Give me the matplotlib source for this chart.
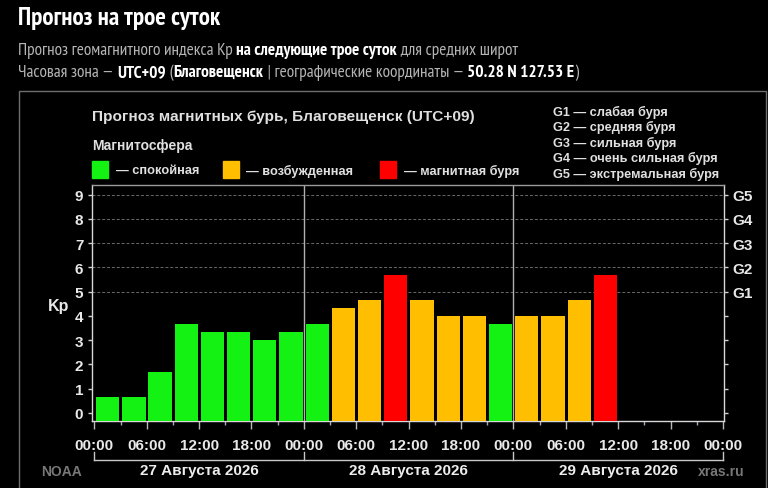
import matplotlib
matplotlib.use('Agg')
import matplotlib.pyplot as plt
import matplotlib.transforms as mtransforms
from matplotlib.patches import Rectangle

W, H = 768, 489

# значения Kp по трёхчасовым интервалам (27, 28, 29 августа)
kp = [0.67, 0.67, 1.67, 3.67, 3.33, 3.33, 3.00, 3.33,
      3.67, 4.33, 4.67, 5.67, 4.67, 4.00, 4.00, 3.67,
      4.00, 4.00, 4.67, 5.67]
days = ['27 Августа 2026', '28 Августа 2026', '29 Августа 2026']
hour_labels = ['00:00', '06:00', '12:00', '18:00'] * 3 + ['00:00']
g_labels = ['G1', 'G2', 'G3', 'G4', 'G5']
g_legend = ['G1 — слабая буря', 'G2 — средняя буря', 'G3 — сильная буря',
            'G4 — очень сильная буря', 'G5 — экстремальная буря']
states = ['— спокойная', '— возбужденная', '— магнитная буря']

GREEN, ORANGE, RED = '#13f213', '#ffbf00', '#ff0000'
narrow = ['PT Sans Narrow', 'DejaVu Sans']
arial = ['Liberation Sans', 'DejaVu Sans']


def fy(y):
    return 1 - y / H


def state_color(v):
    if v < 4:
        return GREEN
    if v < 5:
        return ORANGE
    return RED


fig = plt.figure(figsize=(W / 100, H / 100), dpi=100, facecolor='black')
renderer = fig.canvas.get_renderer()


# строка с обычными и жирными кусками
def rich(x, y, parts, size):
    for txt, bold in parts:
        t = fig.text(x / W, fy(y), txt, fontsize=size, family=narrow,
                     fontweight='bold' if bold else 'normal',
                     color='white' if bold else '#b5b5b5', va='center', ha='left')
        x = t.get_window_extent(renderer).x1


fig.text(18 / W, fy(19), 'Прогноз на трое суток', fontsize=18, family=narrow,
         fontweight='bold', color='white', va='center')
rich(18, 51, [('Прогноз геомагнитного индекса Kp ', False),
              ('на следующие трое суток', True),
              (' для средних широт', False)], 12.4)
rich(18, 73, [('Часовая зона — ', False), ('UTC+09', True), (' (', False),
              ('Благовещенск', True), (' | географические координаты — ', False),
              ('50.28 N 127.53 E', True), (')', False)], 12.4)

# рамка блока
fig.patches.append(Rectangle((18.5 / W, fy(500)), (766 - 18.5) / W, (500 - 92) / H,
                             transform=fig.transFigure, fill=False,
                             edgecolor='#6e6e6e', lw=1))

fig.text(92 / W, fy(117), 'Прогноз магнитных бурь, Благовещенск (UTC+09)',
         fontsize=11.1, family=arial, fontweight='bold', color='#e0e0e0', va='center')
fig.text(92 / W, fy(146), 'Магнитосфера', fontsize=10, family=arial,
         fontweight='bold', color='#e0e0e0', va='center')

for sx, tx, col, lab in zip([92, 223, 380], [116, 246, 404],
                            [GREEN, ORANGE, RED], states):
    fig.patches.append(Rectangle((sx / W, fy(179)), 16 / W, 17 / H,
                                 transform=fig.transFigure, color=col))
    fig.text(tx / W, fy(171), lab, fontsize=9.2, family=arial,
             fontweight='bold', color='#e0e0e0', va='center')

for i, lab in enumerate(g_legend):
    fig.text(553 / W, fy(112 + i * 15.5), lab, fontsize=9.2, family=arial,
             fontweight='bold', color='#e0e0e0', va='center')

# график
ax = fig.add_axes([92.3 / W, fy(421.7), (723.7 - 92.3) / W, (421.7 - 186) / H])
ax.set_facecolor('black')
x0, x1 = -0.23, 72.08
y0, y1 = -0.32, 9.4
ax.set_xlim(x0, x1)
ax.set_ylim(y0, y1)

xs = [1.53 + 3 * i for i in range(len(kp))]
ax.bar(xs, [v - y0 for v in kp], bottom=y0, width=2.67,
       color=[state_color(v) for v in kp], edgecolor='none', zorder=3)

for g in range(5, 10):
    ax.axhline(g, color='#6a6a6a', lw=0.7, ls=(0, (3, 2)), zorder=1)
for d in (24, 48):
    ax.axvline(d, color='#b0b0b0', lw=1, zorder=2)

for s in ax.spines.values():
    s.set_color('#d8d8d8')
    s.set_linewidth(1)
ax.spines['top'].set_color('#9a9a9a')

ax.set_xticks(range(0, 73, 6))
ax.set_xticklabels(hour_labels)
ax.set_xticks(range(3, 72, 6), minor=True)
ax.tick_params(axis='x', which='major', length=5.5, width=1, color='#b8b8b8',
               labelcolor='#e8e8e8', labelsize=11, pad=7)
ax.tick_params(axis='x', which='minor', length=3, width=1, color='#b39fc4')
ax.set_yticks(range(10))
ax.tick_params(axis='y', length=3, width=1, color='#cfcfcf',
               labelcolor='#e8e8e8', labelsize=11, pad=3.5)
for lab in ax.get_xticklabels() + ax.get_yticklabels():
    lab.set_fontweight('bold')
    lab.set_family(arial)

ax2 = ax.twinx()
ax2.set_ylim(y0, y1)
ax2.set_yticks(range(10))
ax2.set_yticklabels([''] * 5 + g_labels)
ax2.tick_params(axis='y', length=3, width=1, color='#cfcfcf',
                labelcolor='#e8e8e8', labelsize=11, pad=3.5)
for lab in ax2.get_yticklabels():
    lab.set_fontweight('bold')
    lab.set_family(arial)
for s in ax2.spines.values():
    s.set_visible(False)

fig.text(59 / W, fy(306), 'Kp', fontsize=11.5, family=arial, fontweight='bold',
         color='#e8e8e8', ha='center', va='center')

# скобки дней и подписи
tr = mtransforms.blended_transform_factory(ax.transData, fig.transFigure)
ax.plot([0, 72], [fy(461), fy(461)], color='#c8c8c8', lw=1, transform=tr, clip_on=False)
for d in (0, 24, 48, 72):
    ax.plot([d, d], [fy(453), fy(461)], color='#c8c8c8', lw=1, transform=tr, clip_on=False)
for i, lab in enumerate(days):
    ax.text(12 + 24 * i, fy(471), lab, transform=tr, fontsize=11, family=arial,
            fontweight='bold', color='#ededed', ha='center', va='center')

fig.text(62 / W, fy(472), 'NOAA', fontsize=10, family=arial, fontweight='bold',
         color='#777777', ha='center', va='center')
fig.text(721 / W, fy(472), 'xras.ru', fontsize=10, family=arial, fontweight='bold',
         color='#777777', ha='center', va='center')

fig.savefig('out.png', dpi=100, facecolor='black')
